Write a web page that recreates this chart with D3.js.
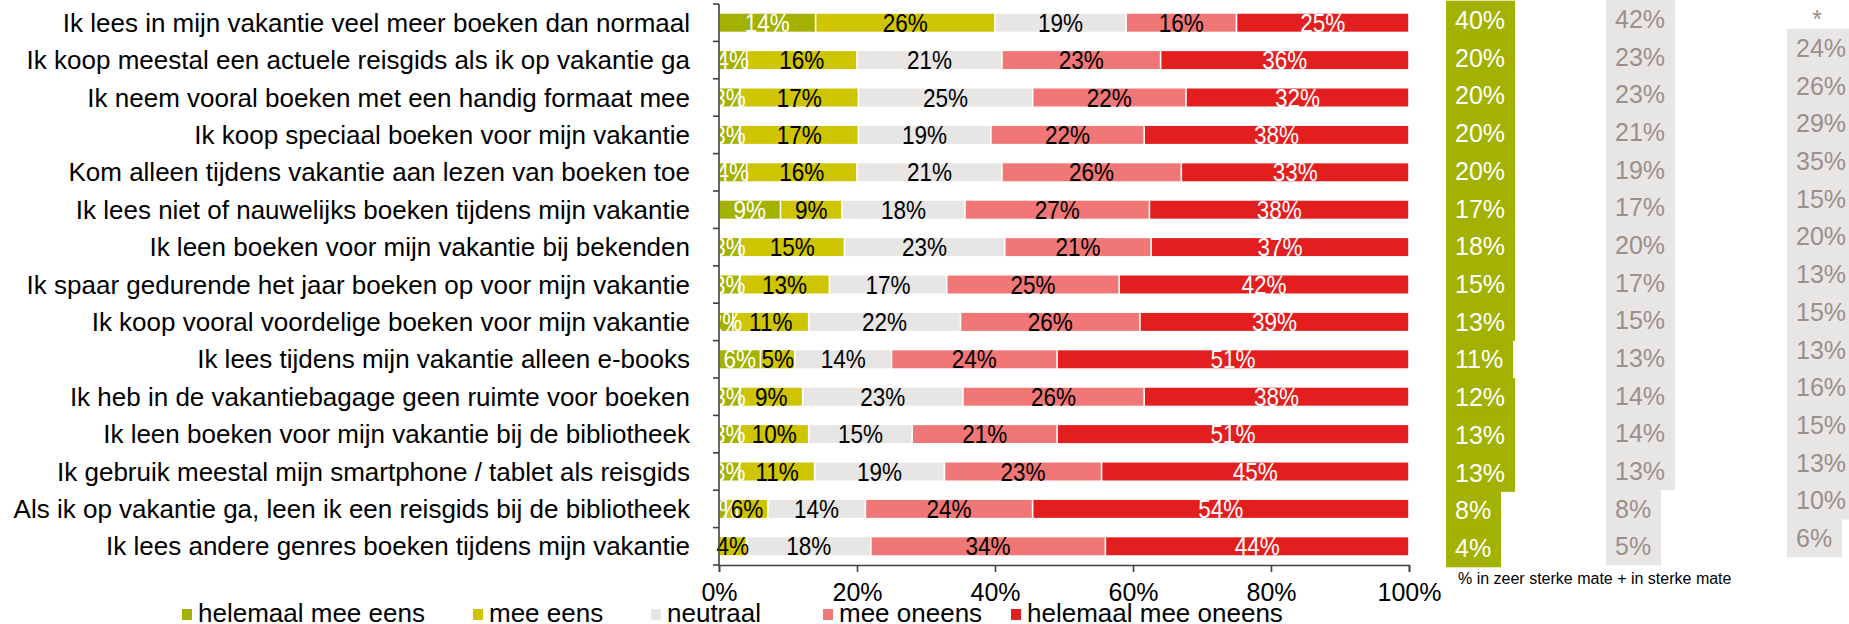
<!DOCTYPE html>
<html>
<head>
<meta charset="utf-8">
<script src="https://cdn.jsdelivr.net/npm/d3@7"></script>
<style>
  html, body { margin: 0; padding: 0; background: #fff; }
  svg { display: block; font-family: "Liberation Sans", Arial, sans-serif; }
</style>
</head>
<body>
<svg id="chart" width="1849" height="624"></svg>
<script>
// Statements (one bar each), top to bottom
const statements = [
  "Ik lees in mijn vakantie veel meer boeken dan normaal",
  "Ik koop meestal een actuele reisgids als ik op vakantie ga",
  "Ik neem vooral boeken met een handig formaat mee",
  "Ik koop speciaal boeken voor mijn vakantie",
  "Kom alleen tijdens vakantie aan lezen van boeken toe",
  "Ik lees niet of nauwelijks boeken tijdens mijn vakantie",
  "Ik leen boeken voor mijn vakantie bij bekenden",
  "Ik spaar gedurende het jaar boeken op voor mijn vakantie",
  "Ik koop vooral voordelige boeken voor mijn vakantie",
  "Ik lees tijdens mijn vakantie alleen e-books",
  "Ik heb in de vakantiebagage geen ruimte voor boeken",
  "Ik leen boeken voor mijn vakantie bij de bibliotheek",
  "Ik gebruik meestal mijn smartphone / tablet als reisgids",
  "Als ik op vakantie ga, leen ik een reisgids bij de bibliotheek",
  "Ik lees andere genres boeken tijdens mijn vakantie"
];

// Answer categories (legend order)
const answerNames = ["helemaal mee eens", "mee eens", "neutraal", "mee oneens", "helemaal mee oneens"];

// Percentages per answer category, one value per statement
const helemaalMeeEens   = [14, 4, 3, 3, 4, 9, 3, 3, 2, 6, 3, 3, 3, 1, 0];
const meeEens           = [26, 16, 17, 17, 16, 9, 15, 13, 11, 5, 9, 10, 11, 6, 4];
const neutraal          = [19, 21, 25, 19, 21, 18, 23, 17, 22, 14, 23, 15, 19, 14, 18];
const meeOneens         = [16, 23, 22, 22, 26, 27, 21, 25, 26, 24, 26, 21, 23, 24, 34];
const helemaalMeeOneens = [25, 36, 32, 38, 33, 38, 37, 42, 39, 51, 38, 51, 45, 54, 44];

// "% in zeer sterke mate + in sterke mate" columns
const scoreNow      = [40, 20, 20, 20, 20, 17, 18, 15, 13, 11, 12, 13, 13, 8, 4];
const scorePrevious = [42, 23, 23, 21, 19, 17, 20, 17, 15, 13, 14, 14, 13, 8, 5];
const scoreEarlier  = [null, 24, 26, 29, 35, 15, 20, 13, 15, 13, 16, 15, 13, 10, 6];
const missingMark = "*";
const footnote = "% in zeer sterke mate + in sterke mate";

// Axis tick labels
const xTickValues = [0, 20, 40, 60, 80, 100];

// ---------------------------------------------------------------------------
const colors = ["#a3b100", "#cfc400", "#e8e6e4", "#f17777", "#e31e1e"];
const labelColors = ["#ffffff", "#000000", "#000000", "#000000", "#ffffff"];
const columnGray = "#e8e6e4";
const columnText = "#9b8f8b";
const axisColor = "#404040";
const legendLeft = [182, 473, 651, 823, 1011];

const svg = d3.select("#chart");
const series = [helemaalMeeEens, meeEens, neutraal, meeOneens, helemaalMeeOneens];

const rows = statements.map((s, i) => {
  const r = { statement: s, index: i };
  answerNames.forEach((k, j) => { r[k] = series[j][i]; });
  return r;
});

const stacked = d3.stack()
  .keys(answerNames)
  .offset(d3.stackOffsetExpand)(rows);

const x = d3.scaleLinear().domain([0, 1]).range([719, 1409]);
const y = d3.scaleBand()
  .domain(d3.range(statements.length))
  .range([4, 565])
  .paddingInner(0.52)
  .paddingOuter(0.26);

// Bars
const gBars = svg.append("g");
stacked.forEach((layer, j) => {
  gBars.selectAll(null)
    .data(layer)
    .join("rect")
    .attr("x", d => x(d[0]) + 0.8)
    .attr("y", (d, i) => y(i))
    .attr("width", d => Math.max(0, x(d[1]) - x(d[0]) - 1.6))
    .attr("height", y.bandwidth())
    .attr("fill", colors[j]);
});

// Segment labels, drawn over all bars (slightly narrowed glyphs)
const gLabels = svg.append("g")
  .attr("font-size", 25)
  .attr("text-anchor", "middle");
stacked.forEach((layer, j) => {
  gLabels.selectAll(null)
    .data(layer.filter(d => d.data[answerNames[j]] > 0))
    .join("text")
    .attr("transform", d =>
      `translate(${x((d[0] + d[1]) / 2)},${y(d.data.index) + y.bandwidth() / 2 + 9}) scale(0.9,1)`)
    .attr("fill", labelColors[j])
    .text(d => d.data[answerNames[j]] + "%");
});

// Category axis: vertical line with ticks between the bars
const step = y.step();
const yTop = y.range()[0], yBottom = y.range()[1];
const gy = svg.append("g").attr("stroke", axisColor).attr("stroke-width", 1.6);
gy.append("line")
  .attr("x1", x(0)).attr("x2", x(0))
  .attr("y1", yTop).attr("y2", yBottom);
gy.selectAll(null)
  .data(d3.range(statements.length + 1))
  .join("line")
  .attr("x1", x(0) - 6).attr("x2", x(0))
  .attr("y1", i => yTop + i * step).attr("y2", i => yTop + i * step);

// Statement labels
svg.append("g")
  .attr("font-size", 26)
  .attr("text-anchor", "end")
  .selectAll("text")
  .data(statements)
  .join("text")
  .attr("x", 690)
  .attr("y", (d, i) => y(i) + y.bandwidth() / 2 + 9)
  .attr("fill", "#000")
  .text(d => d);

// Percentage axis
const gx = svg.append("g")
  .attr("transform", `translate(0,${yBottom})`)
  .call(d3.axisBottom(x)
    .tickValues(xTickValues.map(v => v / 100))
    .tickFormat(d3.format(".0%"))
    .tickSize(7)
    .tickPadding(11));
gx.select(".domain").attr("stroke", axisColor).attr("stroke-width", 1.6);
gx.selectAll(".tick line").attr("stroke", axisColor).attr("stroke-width", 1.6);
gx.selectAll(".tick text")
  .attr("font-size", 25)
  .attr("font-family", "\"Liberation Sans\", Arial, sans-serif")
  .attr("fill", "#000");

// Score columns on the right
function scoreColumn(values, left, top, bottom, fill, textFill) {
  const cy = d3.scaleBand().domain(d3.range(values.length)).range([top, bottom]);
  const g = svg.append("g");
  const rectLayer = g.append("g");
  const textLayer = g.append("g").attr("font-size", 25);
  values.forEach((v, i) => {
    if (v === null) {
      textLayer.append("text")
        .attr("x", left + 30)
        .attr("y", cy(i) + cy.bandwidth() - 1)
        .attr("text-anchor", "middle")
        .attr("fill", columnText)
        .text(missingMark);
      return;
    }
    const t = textLayer.append("text")
      .attr("x", left + 9)
      .attr("y", cy(i) + cy.bandwidth() / 2 + 9)
      .attr("fill", textFill)
      .text(v + "%");
    const w = t.node().getComputedTextLength();
    rectLayer.append("rect")
      .attr("x", left)
      .attr("y", cy(i) - 0.3)
      .attr("width", Math.round(w + 19))
      .attr("height", cy.bandwidth() + 0.6)
      .attr("fill", fill);
  });
}
scoreColumn(scoreNow, 1446, 1, 567, colors[0], "#ffffff");
scoreColumn(scorePrevious, 1606, 0, 565, columnGray, columnText);
scoreColumn(scoreEarlier, 1787, -8.7, 557, columnGray, columnText);

svg.append("text")
  .attr("x", 1458)
  .attr("y", 584)
  .attr("font-size", 16)
  .attr("fill", "#000")
  .text(footnote);

// Legend
const legend = svg.append("g").attr("font-size", 26);
answerNames.forEach((name, j) => {
  const lx = legendLeft[j];
  legend.append("rect")
    .attr("x", lx).attr("y", 609)
    .attr("width", 10).attr("height", 11)
    .attr("fill", colors[j]);
  legend.append("text")
    .attr("x", lx + 16).attr("y", 622)
    .attr("fill", "#000")
    .text(name);
});
</script>
</body>
</html>
